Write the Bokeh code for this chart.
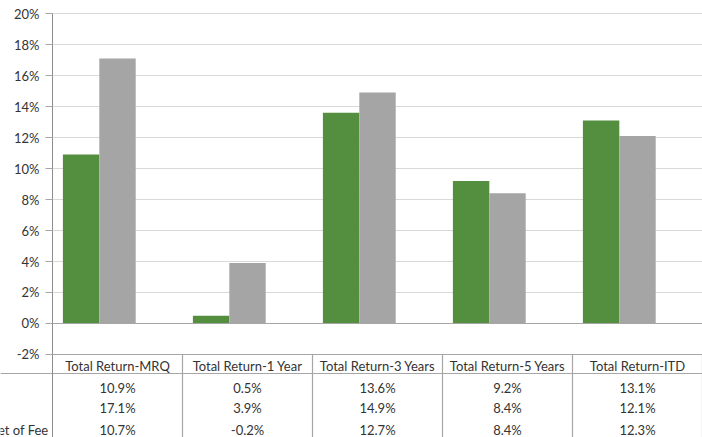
from bokeh.plotting import figure
from bokeh.models import Range1d, FixedTicker, PrintfTickFormatter, ColumnDataSource, LinearAxis
from bokeh.core.properties import value
from bokeh.embed import file_html
from bokeh.resources import INLINE

categories = ["Total Return-MRQ", "Total Return-1 Year", "Total Return-3 Years",
              "Total Return-5 Years", "Total Return-ITD"]
gross = [10.9, 0.5, 13.6, 9.2, 13.1]
benchmark = [17.1, 3.9, 14.9, 8.4, 12.1]
net_of_fee = [10.7, -0.2, 12.7, 8.4, 12.3]
row_labels = ["", "", "Net of Fee"]
y_ticks = [-2, 0, 2, 4, 6, 8, 10, 12, 14, 16, 18, 20]

GREEN = "#548E3F"
GRAY = "#A5A5A5"
FONT = "Lato"
FS = "13px"
TXT = "#333333"
BORDER = "#A6A6A6"
GRID = "#D9D9D9"

n = len(categories)
X0, X1 = -0.4, 5.0
Y0, Y1 = -7.355, 20.839
p = figure(width=702, height=437, output_backend="svg", toolbar_location=None,
           x_axis_type=None, y_axis_type=None,
           x_range=Range1d(X0, X1), y_range=Range1d(Y0, Y1),
           min_border_left=0, min_border_right=0, min_border_top=0, min_border_bottom=0)
p.outline_line_color = None
p.background_fill_color = "white"

ax = LinearAxis(fixed_location=0, bounds=(Y0, y_ticks[-1]))
ax.ticker = FixedTicker(ticks=y_ticks)
ax.formatter = PrintfTickFormatter(format="%d%%")
ax.major_tick_out = 7
ax.major_tick_in = 0
ax.minor_tick_line_color = None
ax.axis_line_color = "#8C8C8C"
ax.major_tick_line_color = BORDER
ax.major_label_text_font = FONT
ax.major_label_text_font_size = FS
ax.major_label_text_color = TXT
ax.major_label_standoff = 6
p.add_layout(ax, "left")

# gridlines (from the axis to the right only)
p.segment(x0=[0] * len(y_ticks), y0=y_ticks, x1=[X1] * len(y_ticks), y1=y_ticks,
          line_color=GRID, line_width=1)

# bars
w = 0.28
centers = [i + 0.5 for i in range(n)]
p.vbar(x=[c - w for c in centers], top=gross, bottom=0, width=w,
       fill_color=GREEN, line_color=None)
p.vbar(x=centers, top=benchmark, bottom=0, width=w,
       fill_color=GRAY, line_color=None)

# zero line and table top border
p.segment(x0=[0, 0], y0=[0, -2], x1=[X1, X1], y1=[0, -2], line_color=BORDER, line_width=1.2)

# data table
y_head, y_sep = -2.71, -3.226
row_y = [-4.13, -5.48, -6.84]
p.segment(x0=[X0], y0=[y_sep], x1=[X1], y1=[y_sep], line_color=BORDER, line_width=1.2)
bounds = list(range(1, n + 1))
p.segment(x0=bounds, y0=[-2] * len(bounds), x1=bounds, y1=[Y0] * len(bounds),
          line_color=BORDER, line_width=1.2)

p.text(x=centers, y=[y_head] * n, text=categories, text_align="center",
       text_baseline="middle", text_font=value(FONT), text_font_size=FS,
       text_color=TXT)
for series, yy in zip([gross, benchmark, net_of_fee], row_y):
    src = ColumnDataSource(dict(x=centers, y=[yy] * n, t=[f"{v:.1f}%" for v in series]))
    p.text(x="x", y="y", text="t", source=src, text_align="center",
           text_baseline="middle", text_font=value(FONT), text_font_size=FS,
           text_color=TXT)
lab_src = ColumnDataSource(dict(x=[-0.031] * len(row_labels), y=row_y, t=row_labels))
p.text(x="x", y="y", text="t", source=lab_src, text_align="right",
       text_baseline="middle", text_font=value(FONT), text_font_size=FS, text_color=TXT)

open("out.html", "w").write(file_html(p, INLINE))
